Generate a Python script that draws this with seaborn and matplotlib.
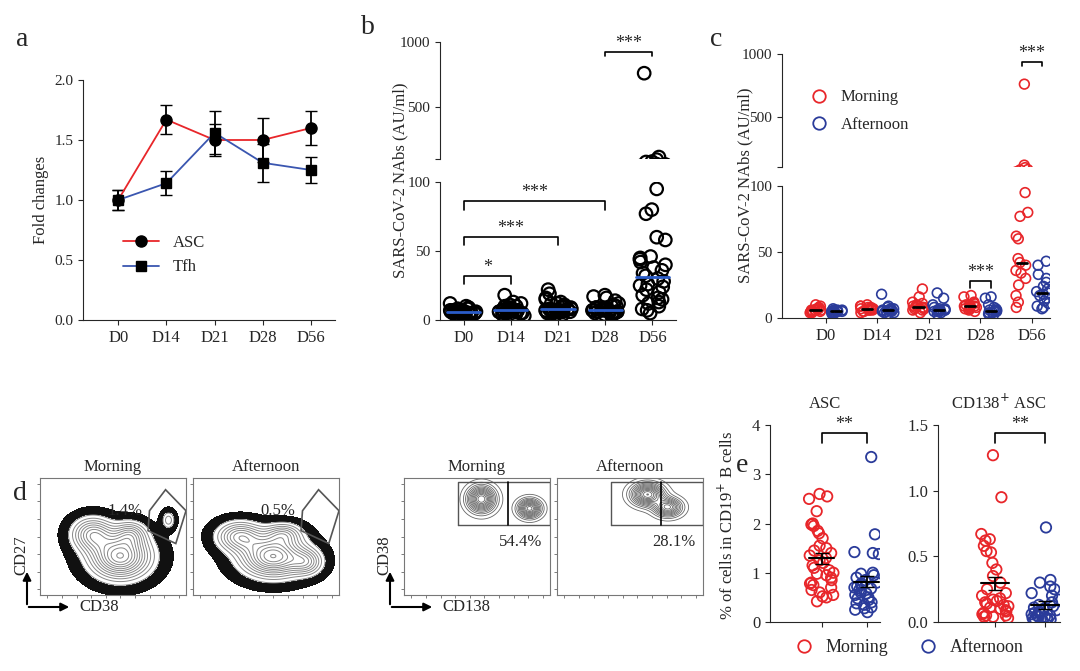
import numpy as np
import pandas as pd
import matplotlib
matplotlib.use("Agg")
import matplotlib.pyplot as plt
import seaborn as sns
from matplotlib.lines import Line2D

sns.set_style("ticks")
plt.rcParams["font.family"] = "Liberation Serif"
plt.rcParams["font.size"] = 11

RED = "#e8262a"
BLUE = "#2a3b9a"

# ---- panel a data
days = ["D0", "D14", "D21", "D28", "D56"]
asc_fc = [1.00, 1.67, 1.50, 1.50, 1.60]
asc_err = [0.08, 0.12, 0.13, 0.18, 0.14]
tfh_fc = [1.00, 1.14, 1.56, 1.31, 1.25]
tfh_err = [0.08, 0.10, 0.18, 0.16, 0.11]

# ---- panel b data (AU/ml)
nab_d0 = [3, 4, 4, 5, 5, 5, 5, 6, 6, 6, 7, 7, 8, 8, 9, 10, 12, 4, 3, 5, 6, 5, 4, 7, 6, 5, 8, 4, 5, 6]
nab_d14 = [3, 4, 5, 5, 6, 6, 6, 7, 7, 7, 8, 8, 9, 10, 11, 12, 13, 18, 5, 6, 4, 7, 8, 6, 9, 5, 6, 7, 10, 6]
nab_d21 = [3, 4, 5, 6, 6, 7, 7, 7, 8, 8, 9, 10, 11, 12, 13, 15, 16, 19, 22, 6, 5, 7, 8, 9, 6, 7, 10, 12, 6, 8]
nab_d28 = [3, 4, 5, 5, 6, 6, 7, 7, 8, 8, 9, 10, 11, 12, 14, 16, 17, 18, 6, 5, 7, 8, 6, 9, 7, 10, 6, 5, 8, 7]
nab_d56 = [760, 115, 95, 80, 77, 60, 58, 46, 45, 44, 42, 40, 38, 36, 34, 32, 30, 28, 26, 25,
           24, 22, 20, 18, 16, 15, 13, 12, 10, 8, 7, 5]

# ---- panel c data (morning / afternoon)
morn = {
    "D0": [4, 5, 5, 6, 6, 7, 8, 10, 5, 6, 4, 7, 6, 5, 9],
    "D14": [4, 5, 6, 7, 7, 8, 9, 10, 6, 7, 5, 8, 7, 6, 9],
    "D21": [4, 6, 7, 8, 8, 9, 10, 12, 16, 22, 6, 7, 9, 8, 11],
    "D28": [5, 7, 8, 9, 9, 10, 12, 16, 17, 6, 8, 11, 9, 10, 7],
    "D56": [760, 115, 95, 80, 77, 62, 60, 45, 42, 40, 36, 34, 30, 25, 17, 12, 8],
}
aft = {
    "D0": [3, 4, 4, 5, 5, 6, 7, 5, 4, 6, 5, 4, 6, 5, 3],
    "D14": [3, 4, 5, 6, 6, 7, 8, 18, 5, 6, 4, 7, 6, 5, 9],
    "D21": [3, 4, 5, 6, 6, 7, 8, 15, 19, 5, 6, 7, 6, 5, 10],
    "D28": [2, 3, 4, 5, 5, 6, 7, 10, 15, 16, 4, 5, 6, 5, 8],
    "D56": [43, 40, 33, 30, 27, 24, 22, 20, 19, 18, 17, 15, 13, 11, 9, 8, 7],
}

# ---- panel e data (% of CD19+ B cells)
asc_morn = [2.6, 2.55, 2.5, 2.25, 2.0, 1.98, 1.95, 1.85, 1.8, 1.7, 1.55, 1.5, 1.45, 1.4, 1.35, 1.3,
            1.25, 1.2, 1.15, 1.1, 1.05, 1.0, 0.98, 0.95, 0.9, 0.85, 0.8, 0.78, 0.75, 0.7, 0.65,
            0.6, 0.55, 0.52, 0.5, 0.42]
asc_aft = [3.35, 1.78, 1.42, 1.4, 1.38, 1.0, 0.98, 0.95, 0.9, 0.85, 0.8, 0.78, 0.75, 0.72, 0.7,
           0.68, 0.65, 0.6, 0.58, 0.55, 0.5, 0.48, 0.45, 0.4, 0.38, 0.35, 0.3, 0.28, 0.25, 0.2]
cd138_morn = [1.27, 0.95, 0.67, 0.63, 0.62, 0.58, 0.54, 0.53, 0.45, 0.4, 0.35, 0.3, 0.25, 0.22, 0.2,
              0.18, 0.17, 0.16, 0.15, 0.14, 0.13, 0.12, 0.11, 0.1, 0.09, 0.08, 0.07, 0.06, 0.05,
              0.05, 0.04, 0.04, 0.03]
cd138_aft = [0.72, 0.32, 0.3, 0.27, 0.25, 0.22, 0.2, 0.17, 0.15, 0.13, 0.12, 0.11, 0.1, 0.09, 0.08,
             0.07, 0.07, 0.06, 0.05, 0.05, 0.04, 0.04, 0.03, 0.03, 0.02, 0.02, 0.02, 0.01, 0.01]

W, H = 1080, 671
fig = plt.figure(figsize=(W / 100, H / 100), dpi=100)


def add_ax(x0, y0, x1, y1):
    return fig.add_axes([x0 / W, 1 - y1 / H, (x1 - x0) / W, (y1 - y0) / H])


def letter(x, y, s):
    fig.text(x / W, 1 - y / H, s, fontsize=20, ha="center", va="center")


def bracket(ax, x1, x2, y, h, txt):
    ax.plot([x1, x1, x2, x2], [y - h, y, y, y - h], color="k", lw=1.2, clip_on=False)
    ax.text((x1 + x2) / 2, y, txt, ha="center", va="bottom", fontsize=13)


def open_markers(ax, lw=1.3):
    for c in ax.collections:
        fc = c.get_facecolor()
        if len(fc):
            c.set_edgecolor(fc)
            c.set_facecolor("none")
            c.set_linewidth(lw)


# ============ panel a
ax = add_ax(83, 80, 335, 320)
x = np.arange(len(days))
ax.errorbar(x, asc_fc, yerr=asc_err, color="k", ecolor="k", capsize=4, lw=0, elinewidth=1.3, zorder=3)
ax.plot(x, asc_fc, color=RED, lw=1.3, marker="o", mfc="k", mec="k", ms=8, label="ASC", zorder=4)
ax.errorbar(x, tfh_fc, yerr=tfh_err, color="k", ecolor="k", capsize=4, lw=0, elinewidth=1.3, zorder=3)
ax.plot(x, tfh_fc, color="#3a56b0", lw=1.3, marker="s", mfc="k", mec="k", ms=7, label="Tfh", zorder=4)
ax.set_xlim(-0.73, 4.5)
ax.set_ylim(0, 2.0)
ax.set_yticks([0, 0.5, 1.0, 1.5, 2.0])
ax.set_yticklabels(["0.0", "0.5", "1.0", "1.5", "2.0"])
ax.set_xticks(x)
ax.set_xticklabels(days, fontsize=12)
ax.set_ylabel("Fold changes", fontsize=12)
sns.despine(ax=ax)
ax.legend(loc="center", bbox_to_anchor=(0.32, 0.27), frameon=False, fontsize=12, handlelength=2.2)
letter(22, 40, "a")

# ============ panel b (broken axis)
dfb = pd.DataFrame({"day": sum([[d] * len(v) for d, v in zip(days, [nab_d0, nab_d14, nab_d21, nab_d28, nab_d56])], []),
                    "nab": nab_d0 + nab_d14 + nab_d21 + nab_d28 + nab_d56})
axt = add_ax(440, 42, 676, 159)
axb = add_ax(440, 182, 676, 320)
for a in (axt, axb):
    np.random.seed(3)
    sns.stripplot(data=dfb, x="day", y="nab", order=days, color="k", size=9, jitter=0.3, ax=a)
    open_markers(a, 1.6)
    a.set_xlim(-0.5, 4.5)
    a.set_ylabel("")
    a.set_xlabel("")
med_b = dfb.groupby("day")["nab"].median().reindex(days)
for i, m in enumerate(med_b):
    axb.plot([i - 0.35, i + 0.35], [m, m], color="#2a5cc8", lw=2, zorder=5)
axt.set_ylim(100, 1000)
axt.set_yticks([100, 500, 1000])
axt.set_yticklabels(["", "500", "1000"])
axt.set_xticks([])
sns.despine(ax=axt, bottom=True)
axb.set_ylim(0, 100)
axb.set_yticks([0, 50, 100])
axb.set_xticks(range(5))
axb.set_xticklabels(days, fontsize=12)
sns.despine(ax=axb)
bracket(axb, 0, 1, 32, 6, "*")
bracket(axb, 0, 2, 60, 6, "***")
bracket(axb, 0, 3, 86, 6, "***")
bracket(axt, 3, 4, 925, 30, "***")
fig.text(400 / W, 1 - 180 / H, "SARS-CoV-2 NAbs (AU/ml)", rotation=90, ha="center", va="center", fontsize=12)
letter(368, 28, "b")

# ============ panel c
rows = []
for d in days:
    rows += [(d, "Morning", v) for v in morn[d]]
    rows += [(d, "Afternoon", v) for v in aft[d]]
dfc = pd.DataFrame(rows, columns=["day", "time", "nab"])
axt = add_ax(782, 54, 1050, 167)
axb = add_ax(782, 186, 1050, 318)
for a in (axt, axb):
    np.random.seed(5)
    sns.stripplot(data=dfc, x="day", y="nab", hue="time", order=days, hue_order=["Morning", "Afternoon"],
                  palette=[RED, BLUE], dodge=True, size=7, jitter=0.25, ax=a, legend=False)
    open_markers(a, 1.2)
    a.set_ylabel("")
    a.set_xlabel("")
    a.set_xlim(-0.85, 4.35)
med_c = dfc.groupby(["day", "time"])["nab"].median()
for i, d in enumerate(days):
    for off, t in [(-0.2, "Morning"), (0.2, "Afternoon")]:
        m = med_c[(d, t)]
        axb.plot([i + off - 0.1, i + off + 0.1], [m, m], color="k", lw=2, zorder=5)
axt.set_ylim(100, 1000)
axt.set_yticks([100, 500, 1000])
axt.set_yticklabels(["", "500", "1000"])
axt.set_xticks([])
sns.despine(ax=axt, bottom=True)
axb.set_ylim(0, 100)
axb.set_yticks([0, 50, 100])
axb.set_xticks(range(5))
axb.set_xticklabels(days, fontsize=12)
sns.despine(ax=axb)
bracket(axb, 2.8, 3.2, 28, 5, "***")
bracket(axt, 3.8, 4.2, 940, 35, "***")
handles = [Line2D([], [], ls="", marker="o", mfc="none", mec=RED, mew=1.3, ms=9, label="Morning"),
           Line2D([], [], ls="", marker="o", mfc="none", mec=BLUE, mew=1.3, ms=9, label="Afternoon")]
axt.legend(handles=handles, loc="upper left", bbox_to_anchor=(0.02, 0.82), frameon=False,
           fontsize=12, handletextpad=0.3, labelspacing=0.7)
fig.text(745 / W, 1 - 185 / H, "SARS-CoV-2 NAbs (AU/ml)", rotation=90, ha="center", va="center", fontsize=12)
letter(716, 40, "c")


# ============ panel d (flow plots)
def density(comps):
    g = np.linspace(0, 1, 160)
    X, Y = np.meshgrid(g, g)
    Z = np.zeros_like(X)
    for cx, cy, sx, sy, w in comps:
        Z += w * np.exp(-((X - cx) ** 2 / (2 * sx ** 2) + (Y - cy) ** 2 / (2 * sy ** 2)))
    return X, Y, Z


asc_morn_comps = [(0.55, 0.33, 0.13, 0.12, 1.0), (0.36, 0.52, 0.09, 0.09, 0.6),
                  (0.62, 0.52, 0.07, 0.07, 0.4), (0.88, 0.64, 0.03, 0.05, 0.25)]
asc_aft_comps = [(0.55, 0.33, 0.14, 0.11, 1.0), (0.32, 0.5, 0.1, 0.08, 0.6),
                 (0.62, 0.52, 0.08, 0.06, 0.4), (0.78, 0.28, 0.07, 0.07, 0.4)]
cd138_morn_comps = [(0.53, 0.82, 0.06, 0.07, 1.0), (0.86, 0.74, 0.05, 0.05, 0.9)]
cd138_aft_comps = [(0.62, 0.86, 0.07, 0.06, 1.0), (0.76, 0.75, 0.06, 0.05, 0.8)]

boxes = [(40, 186, asc_morn_comps, "Morning", "1.4%", True),
         (193, 339, asc_aft_comps, "Afternoon", "0.5%", True),
         (404, 550, cd138_morn_comps, "Morning", "54.4%", False),
         (557, 703, cd138_aft_comps, "Afternoon", "28.1%", False)]
for x0, x1, comps, title, pct, halo in boxes:
    ax = add_ax(x0, 478, x1, 595)
    X, Y, Z = density(comps)
    if halo:
        ax.contourf(X, Y, Z, levels=[0.02, 0.12], colors=["#111111"])
        ax.contourf(X, Y, Z, levels=[0.12, 10], colors=["white"])
        ax.contour(X, Y, Z, levels=np.linspace(0.12, 1.0, 12), colors="#888888", linewidths=0.7)
        gate_x = [0.75, 0.86, 1.0, 0.93, 0.74]
        gate_y = [0.72, 0.9, 0.72, 0.44, 0.55]
        ax.fill(gate_x, gate_y, fill=False, ec="#555555", lw=1.2)
        ax.text(0.58, 0.72, pct, ha="center", va="center", fontsize=12)
    else:
        ax.contour(X, Y, Z, levels=np.linspace(0.05, 1.0, 14), colors="#666666", linewidths=0.6)
        ax.plot([0.37, 1.0, 1.0, 0.37, 0.37], [0.6, 0.6, 0.97, 0.97, 0.6], color="#555555", lw=1)
        ax.plot([0.71, 0.71], [0.6, 0.97], color="k", lw=1.2)
        ax.text(0.95, 0.45, pct, ha="right", va="center", fontsize=12)
    ax.set_xlim(0, 1)
    ax.set_ylim(0, 1)
    ax.set_xticks(np.linspace(0.05, 0.95, 10))
    ax.set_yticks(np.linspace(0.05, 0.95, 7))
    ax.set_xticklabels([])
    ax.set_yticklabels([])
    ax.tick_params(length=2, width=0.6, colors="#666666")
    for s in ax.spines.values():
        s.set_color("#777777")
        s.set_linewidth(0.8)
    ax.set_title(title, fontsize=12, pad=5)

for cx, cy, ylab, xlab in [(27, 607, "CD27", "CD38"), (390, 607, "CD38", "CD138")]:
    ap = dict(arrowstyle="-|>", color="k", lw=1.5)
    fig.add_artist(matplotlib.patches.FancyArrowPatch((cx / W, 1 - cy / H), (cx / W, 1 - (cy - 38) / H),
                                                      transform=fig.transFigure, **ap, mutation_scale=12))
    fig.add_artist(matplotlib.patches.FancyArrowPatch(((cx - 1) / W, 1 - cy / H), ((cx + 45) / W, 1 - cy / H),
                                                      transform=fig.transFigure, **ap, mutation_scale=12))
    fig.text((cx - 6) / W, 1 - 555 / H, ylab, rotation=90, ha="center", va="center", fontsize=12)
    fig.text((cx + 52) / W, 1 - cy / H, xlab, ha="left", va="center", fontsize=12)
letter(20, 493, "d")

# ============ panel e
for (x0, x1, m, a_, ylim, yt, ytl, title) in [
        (770, 880, asc_morn, asc_aft, 4, [0, 1, 2, 3, 4], ["0", "1", "2", "3", "4"], "ASC"),
        (938, 1060, cd138_morn, cd138_aft, 1.5, [0, 0.5, 1.0, 1.5], ["0.0", "0.5", "1.0", "1.5"], "CD138$^{+}$ ASC")]:
    ax = add_ax(x0, 425, x1, 622)
    dfe = pd.DataFrame({"time": ["Morning"] * len(m) + ["Afternoon"] * len(a_), "val": m + a_})
    np.random.seed(1)
    sns.stripplot(data=dfe, x="time", y="val", hue="time", palette=[RED, BLUE], size=7.5,
                  jitter=0.28, ax=ax, legend=False)
    open_markers(ax, 1.3)
    for i, v in enumerate([m, a_]):
        v = np.array(v)
        mu, se = v.mean(), v.std(ddof=1) / np.sqrt(len(v))
        ax.plot([i - 0.28, i + 0.28], [mu, mu], color="k", lw=1.5, zorder=5)
        ax.errorbar(i, mu, yerr=se, color="k", capsize=5, lw=0, elinewidth=1.3, zorder=5)
    ax.set_xlim(-1.15, 1.3)
    ax.set_ylim(0, ylim)
    ax.set_yticks(yt)
    ax.set_yticklabels(ytl, fontsize=12)
    ax.set_xticks([0, 1])
    ax.set_xticklabels([])
    ax.set_xlabel("")
    ax.set_ylabel("")
    ax.set_title(title, fontsize=12, pad=12)
    sns.despine(ax=ax)
    bracket(ax, 0, 1, ylim * 0.96, ylim * 0.05, "**")
fig.text(727 / W, 1 - 525 / H, "% of cells in CD19$^{+}$ B cells", rotation=90, ha="center", va="center", fontsize=12)
fig.legend(handles=handles, loc="center", bbox_to_anchor=(905 / W, 1 - 648 / H), ncol=2, frameon=False,
           fontsize=13, handletextpad=0.2, columnspacing=1.2)
letter(742, 466, "e")

fig.savefig("out.png", dpi=100)
